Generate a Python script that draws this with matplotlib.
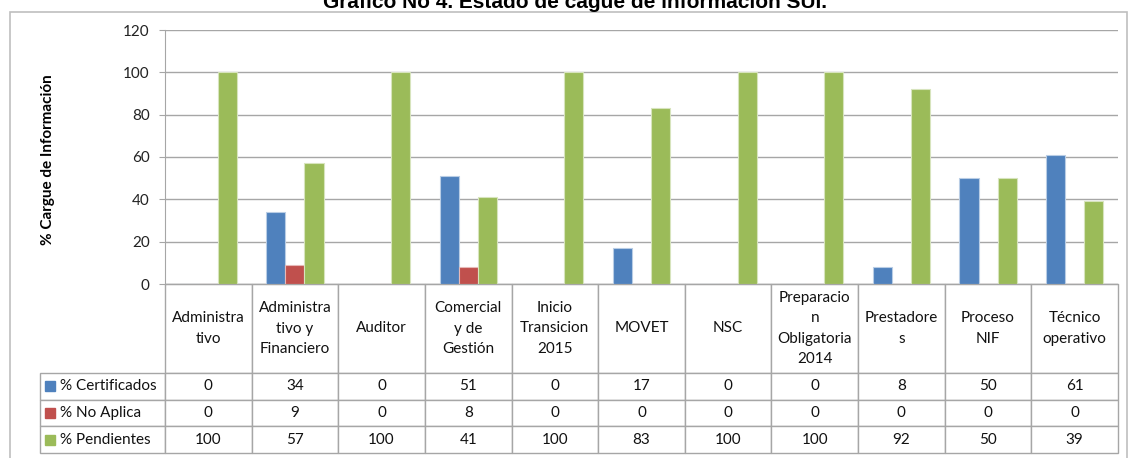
import numpy as np
import matplotlib.pyplot as plt
from matplotlib.patches import Rectangle

# Data
categorias = ['Administra\ntivo', 'Administra\ntivo y\nFinanciero', 'Auditor',
              'Comercial\ny de\nGestión', 'Inicio\nTransicion\n2015', 'MOVET', 'NSC',
              'Preparacio\nn\nObligatoria\n2014', 'Prestadore\ns', 'Proceso\nNIF',
              'Técnico\noperativo']
certificados = [0, 34, 0, 51, 0, 17, 0, 0, 8, 50, 61]
no_aplica = [0, 9, 0, 8, 0, 0, 0, 0, 0, 0, 0]
pendientes = [100, 57, 100, 41, 100, 83, 100, 100, 92, 50, 39]
series = ['% Certificados', '% No Aplica', '% Pendientes']
colores = ['#4F81BD', '#C0504D', '#9BBB59']
bordes = ['#B9CDE5', '#E6B9B8', '#D7E4BD']

plt.rcParams['font.family'] = ['Lato', 'DejaVu Sans']
gris = '#A6A6A6'

# Figure (pixel based layout)
W, H = 1130, 458
fig = plt.figure(figsize=(W / 100, H / 100), dpi=100)
x_left, x_right, y_top, y_zero, y_tab = 165, 1118, 30, 284, 453
ax = fig.add_axes([x_left / W, 1 - y_zero / H, (x_right - x_left) / W, (y_zero - y_top) / H])

x = np.arange(len(categorias))
w = 0.22
for i, vals in enumerate([certificados, no_aplica, pendientes]):
    ax.bar(x + (i - 1) * w, vals, w, color=colores[i], edgecolor=bordes[i], lw=0.8)

ax.set_xlim(-0.5, len(categorias) - 0.5)
ax.set_ylim(0, 120)
ax.set_yticks(range(0, 121, 20))
ax.set_xticks([])
ax.yaxis.grid(True, color=gris, lw=1)
ax.set_axisbelow(True)
for s in ['top', 'right']:
    ax.spines[s].set_visible(False)
for s in ['left', 'bottom']:
    ax.spines[s].set_color(gris)
ax.tick_params(axis='y', length=4, color=gris, labelsize=11, pad=7, labelcolor='#222222')

# Data table under the chart
ax_h = y_zero - y_top
ax_w = x_right - x_left
lab_w = 125
col_w = ax_w / len(categorias)
head_h = 89
row_h = (y_tab - y_zero - head_h) / 3

cell_text = [[''] + categorias]
for nombre, vals in zip(series, [certificados, no_aplica, pendientes]):
    cell_text.append([nombre] + [str(v) for v in vals])

tbl = ax.table(cellText=cell_text, cellLoc='center',
               bbox=[-lab_w / ax_w, -(y_tab - y_zero) / ax_h,
                     (ax_w + lab_w) / ax_w, (y_tab - y_zero) / ax_h])
tbl.auto_set_font_size(False)
tbl.set_fontsize(11)
for (r, c), cell in tbl.get_celld().items():
    cell.set_edgecolor(gris)
    cell.set_linewidth(1)
    cell.set_height(head_h if r == 0 else row_h)
    cell.set_width(lab_w if c == 0 else col_w)
    cell.get_text().set_color('#111111')
    if r == 0:
        cell.get_text().set_linespacing(1.6)
    if c == 0:
        cell._loc = 'left'
        cell.get_text().set_ha('left')
        cell.PAD = 0.16
tbl[0, 0].visible_edges = ''

# legend keys in the table
y0 = y_zero + head_h
for i, col in enumerate(colores):
    yc = y0 + (i + 0.5) * row_h
    fig.add_artist(Rectangle((45 / W, 1 - (yc + 5) / H), 10 / W, 10 / H,
                             color=col, transform=fig.transFigure))

fig.text(48 / W, 1 - 160 / H, '% Cargue de Información', rotation=90,
         fontsize=11, fontweight='bold', ha='center', va='center')

fig.text(575 / W, 1 - 8 / H, 'Gráfico No 4. Estado de cague de información SUI.',
         ha='center', va='baseline', fontsize=15, fontweight='bold',
         family='Liberation Sans')

# outer frame
fig.add_artist(Rectangle((10 / W, -0.05), (1127 - 10) / W, (H - 12) / H + 0.05,
                         fill=False, ec='#BFBFBF', lw=1.2, transform=fig.transFigure))

fig.savefig('out.png', dpi=100)
